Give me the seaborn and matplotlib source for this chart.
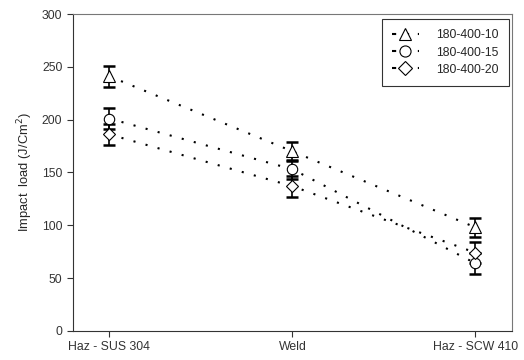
import pandas as pd
import matplotlib.pyplot as plt
import seaborn as sns

# Data
locations = ['Haz - SUS 304', 'Weld', 'Haz - SCW 410']
series = ['180-400-10', '180-400-15', '180-400-20']
load_10 = [241, 170, 98]
load_15 = [201, 153, 64]
load_20 = [186, 137, 74]
err_10 = [10, 9, 9]
err_15 = [10, 9, 10]
err_20 = [10, 10, 10]

sns.set_style('ticks')
plt.rcParams['font.family'] = ['Liberation Sans', 'DejaVu Sans']

df = pd.DataFrame({
    'location': locations * 3,
    'load': load_10 + load_15 + load_20,
    'series': [s for s in series for _ in locations],
})

fig = plt.figure(figsize=(5.24, 3.6), dpi=100)
ax = fig.add_axes([0.139, 0.081, 0.838, 0.88])

# error bars first, so the open markers sit on top
for vals, errs in zip([load_10, load_15, load_20], [err_10, err_15, err_20]):
    ax.errorbar(locations, vals, yerr=errs, fmt='none', ecolor='black',
                elinewidth=1.2, capsize=4.5, capthick=1.8, zorder=2)

sns.lineplot(data=df, x='location', y='load', hue='series', style='series',
             palette=['black'] * 3, markers=['^', 'o', 'D'],
             dashes=[(1, 5)] * 3, linewidth=1.5, sort=False,
             markerfacecolor='white', markeredgecolor='black',
             markeredgewidth=0.8, ax=ax, zorder=3)

sizes = {'^': 8.5, 'o': 7.5, 'D': 6.2}
for line in ax.get_lines():
    m = line.get_marker()
    if m in sizes:
        line.set_markersize(sizes[m])
        line.set_markerfacecolor('white')
        line.set_markeredgecolor('black')

ax.set_xlim(-0.2, 2.2)
ax.set_ylim(0, 300)
ax.set_yticks([0, 50, 100, 150, 200, 250, 300])
ax.set_xlabel('')
ax.set_ylabel('Impact  load (J/Cm$^2$)', fontsize=9.3, labelpad=5)
ax.tick_params(labelsize=8.8, length=4, width=0.8, colors='#333333')

for side in ['left', 'bottom']:
    ax.spines[side].set_color('#333333')
for side in ['top', 'right']:
    ax.spines[side].set_visible(True)
    ax.spines[side].set_color('#777777')

handles, labels = ax.get_legend_handles_labels()
for h in handles:
    m = h.get_marker()
    if m in sizes:
        h.set_markersize(sizes[m] + 0.5)
        h.set_markerfacecolor('white')
        h.set_markeredgecolor('black')
        h.set_dashes((2, 4.2))
leg = ax.legend(handles, labels, loc='upper right', fontsize=8.8,
                frameon=True, fancybox=False, edgecolor='black',
                handlelength=2.2, handletextpad=1.4, labelspacing=0.42,
                borderpad=0.85, borderaxespad=0,
                bbox_to_anchor=(0.993, 0.984))
leg.get_frame().set_linewidth(0.8)

fig.savefig('out.png', dpi=100)
